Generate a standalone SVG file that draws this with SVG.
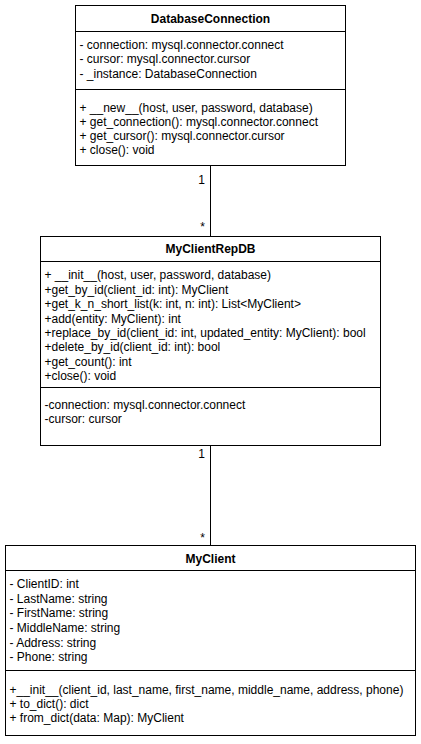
<svg xmlns="http://www.w3.org/2000/svg" width="421" height="744" viewBox="0 0 421 744">
<style>
.box{fill:#fff;stroke:#000;stroke-width:1}
.sep{stroke:#000;stroke-width:1}
.t{font-family:"Liberation Sans",Arial,Helvetica,sans-serif;font-size:12px;fill:#000}
.h{font-family:"Liberation Sans",Arial,Helvetica,sans-serif;font-size:12px;font-weight:bold;fill:#000;text-anchor:middle}
.lbl{font-family:"Liberation Sans",Arial,Helvetica,sans-serif;font-size:12px;fill:#000;text-anchor:end}
.edge{stroke:#000;stroke-width:1;fill:none}
</style>
<rect width="421" height="744" fill="#fff"/>
<g id="connectors">
<line class="edge" x1="210.5" y1="165.5" x2="210.5" y2="236.5"/>
<line class="edge" x1="210.5" y1="445.5" x2="210.5" y2="545.5"/>
<text class="lbl" x="205" y="184">1</text>
<text class="lbl" x="205" y="231">*</text>
<text class="lbl" x="205" y="458">1</text>
<text class="lbl" x="205" y="542">*</text>
</g>
<g id="DatabaseConnection">
<rect class="box" x="75.5" y="5.5" width="270" height="160"/>
<line class="sep" x1="75.5" y1="31.5" x2="345.5" y2="31.5"/>
<line class="sep" x1="75.5" y1="89.5" x2="345.5" y2="89.5"/>
<text class="h" x="210.5" y="22.5">DatabaseConnection</text>
<text class="t" x="79.5" y="48.5">- connection: mysql.connector.connect</text>
<text class="t" x="79.5" y="63">- cursor: mysql.connector.cursor</text>
<text class="t" x="79.5" y="78">- _instance: DatabaseConnection</text>
<text class="t" x="79.5" y="112">+ __new__(host, user, password, database)</text>
<text class="t" x="79.5" y="126">+ get_connection(): mysql.connector.connect</text>
<text class="t" x="79.5" y="140">+ get_cursor(): mysql.connector.cursor</text>
<text class="t" x="79.5" y="154">+ close(): void</text>
</g>
<g id="MyClientRepDB">
<rect class="box" x="40.5" y="236.5" width="340" height="209"/>
<line class="sep" x1="40.5" y1="261.5" x2="380.5" y2="261.5"/>
<line class="sep" x1="40.5" y1="387.5" x2="380.5" y2="387.5"/>
<text class="h" x="210.5" y="253">MyClientRepDB</text>
<text class="t" x="44.5" y="279">+ __init__(host, user, password, database)</text>
<text class="t" x="44.5" y="293.5">+get_by_id(client_id: int): MyClient</text>
<text class="t" x="44.5" y="308">+get_k_n_short_list(k: int, n: int): List&lt;MyClient&gt;</text>
<text class="t" x="44.5" y="322.5">+add(entity: MyClient): int</text>
<text class="t" x="44.5" y="337">+replace_by_id(client_id: int, updated_entity: MyClient): bool</text>
<text class="t" x="44.5" y="351">+delete_by_id(client_id: int): bool</text>
<text class="t" x="44.5" y="365.5">+get_count(): int</text>
<text class="t" x="44.5" y="380">+close(): void</text>
<text class="t" x="44.5" y="408.5">-connection: mysql.connector.connect</text>
<text class="t" x="44.5" y="423">-cursor: cursor</text>
</g>
<g id="MyClient">
<rect class="box" x="5.5" y="545.5" width="410" height="190"/>
<line class="sep" x1="5.5" y1="570.5" x2="415.5" y2="570.5"/>
<line class="sep" x1="5.5" y1="670.5" x2="415.5" y2="670.5"/>
<text class="h" x="210.5" y="562.5">MyClient</text>
<text class="t" x="9.5" y="588">- ClientID: int</text>
<text class="t" x="9.5" y="603">- LastName: string</text>
<text class="t" x="9.5" y="617">- FirstName: string</text>
<text class="t" x="9.5" y="632">- MiddleName: string</text>
<text class="t" x="9.5" y="647">- Address: string</text>
<text class="t" x="9.5" y="661">- Phone: string</text>
<text class="t" x="9.5" y="694">+__init__(client_id, last_name, first_name, middle_name, address, phone)</text>
<text class="t" x="9.5" y="707.5">+ to_dict(): dict</text>
<text class="t" x="9.5" y="721.5">+ from_dict(data: Map): MyClient</text>
</g>
</svg>
